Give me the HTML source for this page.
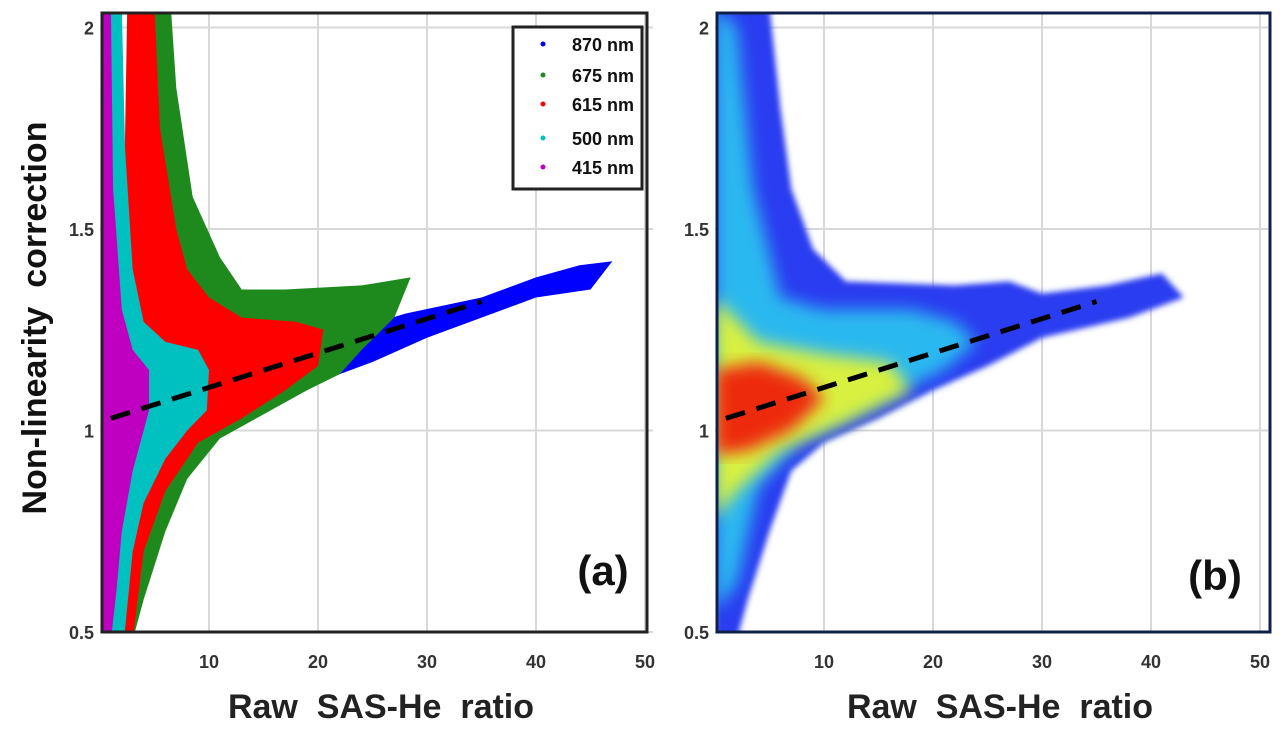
<!DOCTYPE html>
<html><head><meta charset="utf-8"><style>
body{margin:0;background:#fff;width:1283px;height:731px;overflow:hidden}
svg{font-family:"Liberation Sans",sans-serif}
text{white-space:pre}
</style></head><body>
<svg id="s" width="1283" height="731">
<defs><filter id="bl"><feGaussianBlur stdDeviation="3"/></filter><filter id="bl2"><feGaussianBlur stdDeviation="8"/></filter>
<clipPath id="ca"><rect x="102" y="13" width="545" height="620"/></clipPath>
<clipPath id="cb"><rect x="717" y="13" width="553" height="620"/></clipPath></defs>
</svg>
<script>
const xTicks=[10,20,30,40,50];
const yTicks=[0.5,1,1.5,2];
const seriesNames=['870 nm','675 nm','615 nm','500 nm','415 nm'];
const seriesColors=['#0000ff','#1e8a1e','#ff0000','#00c0c0','#c000c0'];
const blueEnv=[[22,1.24],[28,1.29],[35,1.33],[40,1.38],[44,1.41],[47,1.42],[45,1.35],[40,1.33],[35,1.28],[30,1.23],[25,1.17],[22,1.14],[18,1.1]];
const greenEnv=[[5,2.05],[6.5,2.05],[7,1.85],[8.5,1.58],[11,1.43],[13,1.35],[17,1.35],[24,1.36],[28.5,1.38],[27,1.28],[24,1.2],[22,1.14],[19,1.1],[15,1.04],[11,0.98],[8,0.88],[6,0.75],[4,0.58],[3,0.48]];
const redEnv=[[2.5,2.05],[5,2.05],[5.5,1.75],[7,1.5],[8,1.4],[10,1.33],[13,1.28],[18,1.27],[20.5,1.25],[20,1.16],[17,1.1],[13,1.03],[9,0.97],[6,0.85],[4,0.7],[3,0.48],[1.5,0.48]];
const cyanEnv=[[0,2.05],[2,2.05],[2.3,1.7],[3,1.4],[4,1.27],[6,1.22],[9,1.2],[10,1.15],[9.8,1.05],[8,1.0],[6,0.93],[4,0.82],[3,0.7],[2.2,0.48],[0,0.48]];
const magentaEnv=[[0,2.05],[1,2.05],[1.2,1.6],[2,1.3],[3,1.2],[4.5,1.15],[4.5,1.05],[3,0.9],[2,0.75],[1.5,0.6],[1,0.48],[0,0.48]];
const densOuter=[[0,2.05],[5,2.05],[6,1.8],[7,1.6],[9,1.45],[12,1.37],[22,1.36],[27,1.37],[30,1.34],[36,1.36],[41,1.39],[43,1.33],[38,1.28],[30,1.23],[25,1.16],[20,1.1],[15,1.03],[10,0.97],[7,0.9],[5,0.75],[3,0.58],[2,0.48],[0,0.48]];
const densCyan=[[0,2.05],[2,2.0],[3.5,1.6],[6,1.33],[10,1.3],[18,1.3],[22,1.27],[24,1.22],[21,1.15],[15,1.07],[8,0.98],[4,0.86],[2,0.62],[0,0.55]];
const densYellow=[[0,1.33],[4,1.22],[10,1.19],[16,1.17],[18,1.1],[12,1.02],[6,0.95],[2,0.85],[0,0.78]];
const densRed=[[0,1.15],[4,1.17],[8,1.13],[10,1.08],[7,1.0],[3,0.95],[0,0.94]];
const fitLine=[[1,1.03],[35,1.32]];
const S=document.getElementById('s'),NS='http://www.w3.org/2000/svg';
function el(t,a,p){const e=document.createElementNS(NS,t);for(const k in a)e.setAttribute(k,a[k]);(p||S).appendChild(e);return e;}
const Y=v=>632-(v-0.5)*403;
function panel(x0,label){
 const X=v=>x0+v*10.9;
 const g=el('g',{});
 
 
 for(const t of xTicks){const l=el('line',{x1:X(t),x2:X(t),y1:13,y2:632,stroke:'#d8d8d8','stroke-width':2},g);
  
  const tx=el('text',{x:X(t),y:668,'text-anchor':'middle','font-size':18,'font-weight':'bold',fill:'#333'},g);tx.textContent=t;
  }
 for(const t of yTicks){const l=el('line',{x1:x0,x2:x0+553,y1:Y(t),y2:Y(t),stroke:'#d8d8d8','stroke-width':2},g);
  
  const tx=el('text',{x:x0-6,y:Y(t)+7,'text-anchor':'end','font-size':18,'font-weight':'bold',fill:'#333'},g);tx.textContent=t;
  }
 return {X,g};
}
function poly(env,X,fill,parent,name,filt){const p=el('polygon',{points:env.map(d=>X(d[0])+','+Y(d[1])).join(' '),fill},parent);
 if(filt)p.setAttribute('filter',filt);
 return p;}
const A=panel(100,'a');
const ga=el('g',{'clip-path':'url(#ca)'});
[blueEnv,greenEnv,redEnv,cyanEnv,magentaEnv].forEach((e,i)=>poly(e,A.X,seriesColors[i],ga,'series-'+seriesNames[i].replace(' ','-')));
const fa=el('line',{x1:A.X(fitLine[0][0]),y1:Y(fitLine[0][1]),x2:A.X(fitLine[1][0]),y2:Y(fitLine[1][1]),stroke:'#000','stroke-width':5,'stroke-dasharray':'20 12'});

const fra=el('rect',{x:102,y:13,width:545,height:619,fill:'none',stroke:'#222','stroke-width':3});

const lg=el('g',{});
el('rect',{x:513,y:27,width:129,height:162,fill:'#fff',stroke:'#222','stroke-width':3},lg);
seriesNames.forEach((n,i)=>{const yy=[49,80,109,143,172][i];
 const c=el('circle',{cx:543,cy:yy-5,r:2.5,fill:seriesColors[i]},lg);
 
 const t=el('text',{x:572,y:yy+2,'font-size':18,'font-weight':'bold',fill:'#111'},lg);t.textContent=n;
 });
const B=panel(715,'b');
const gb=el('g',{'clip-path':'url(#cb)'});
poly(densOuter,B.X,'#2a3cf0',gb,'density-outer','url(#bl)');
poly(densCyan,B.X,'#2ab8f0',gb,'density-cyan','url(#bl2)');
poly(densYellow,B.X,'#d8f040',gb,'density-yellow','url(#bl2)');
poly(densRed,B.X,'#ee2a10',gb,'density-red','url(#bl2)');
const fb=el('line',{x1:B.X(fitLine[0][0]),y1:Y(fitLine[0][1]),x2:B.X(fitLine[1][0]),y2:Y(fitLine[1][1]),stroke:'#000','stroke-width':5,'stroke-dasharray':'20 12'});

const frb=el('rect',{x:717,y:13,width:553,height:619,fill:'none',stroke:'#10204a','stroke-width':3});

const yt=el('text',{x:0,y:0,transform:'translate(46,318) rotate(-90)','text-anchor':'middle','font-size':34,'font-weight':'bold',fill:'#111'});yt.textContent='Non-linearity  correction';

[[381,'x-axis-title-a'],[1000,'x-axis-title-b']].forEach(([x,n])=>{const t=el('text',{x,y:718,'text-anchor':'middle','font-size':34,'font-weight':'bold',fill:'#222'});t.textContent='Raw  SAS-He  ratio';
 });
[[603,585,'(a)','panel-label-a'],[1215,590,'(b)','panel-label-b']].forEach(([x,y,s,n])=>{const t=el('text',{x,y,'text-anchor':'middle','font-size':42,'font-weight':'bold',fill:'#111'});t.textContent=s;
 });
</script>
</body></html>
